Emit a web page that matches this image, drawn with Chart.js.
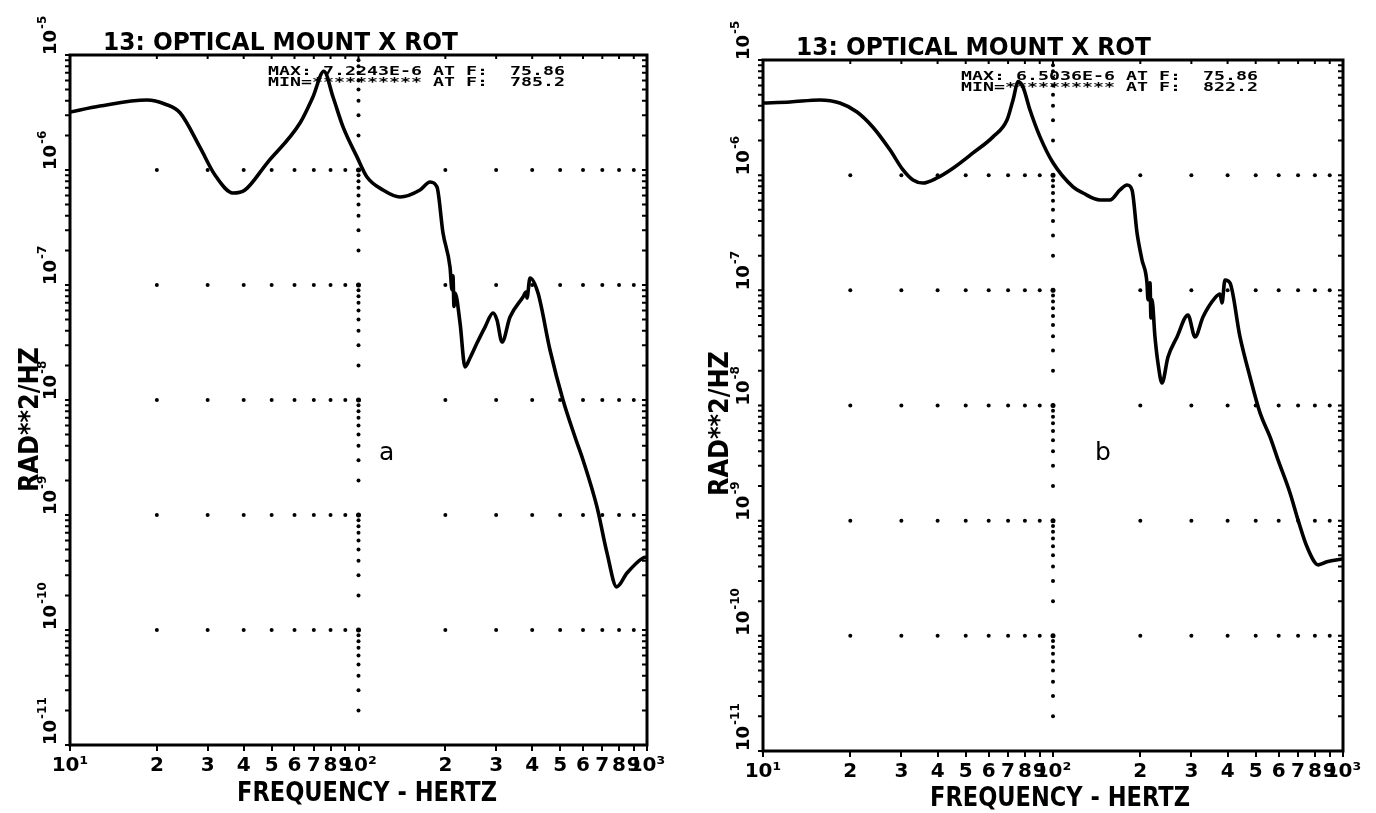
<!DOCTYPE html>
<html><head><meta charset="utf-8">
<script src="https://cdn.jsdelivr.net/npm/chart.js@4.4.1/dist/chart.umd.min.js"></script>
<style>
html,body{margin:0;padding:0;background:#fff;width:1376px;height:813px;overflow:hidden}
.panel{position:absolute;top:0;width:688px;height:813px}
#pa{left:0}
#pb{left:688px}
</style></head><body>
<div class="panel" id="pa"><canvas id="ca" width="688" height="813"></canvas></div>
<div class="panel" id="pb"><canvas id="cb" width="688" height="813"></canvas></div>
<script>
// ---------- text ----------
const titleText = '13: OPTICAL MOUNT X ROT';
const xAxisTitle = 'FREQUENCY - HERTZ';
const yAxisTitle = 'RAD**2/HZ';
const panelLetters = ['a', 'b'];
const maxLines = ['MAX: 7.2243E-6 AT F:  75.86', 'MAX: 6.5036E-6 AT F:  75.86'];
const minLines = ['MIN=********** AT F:  785.2', 'MIN=********** AT F:  822.2'];

// ---------- ticks ----------
const xTickValues = [10,20,30,40,50,60,70,80,90,100,200,300,400,500,600,700,800,900,1000];
const xTickLabels = ['10\u00b9','2','3','4','5','6','7','8','9','10\u00b2','2','3','4','5','6','7','8','9','10\u00b3'];
const yTickValues = [
  1e-11,2e-11,3e-11,4e-11,5e-11,6e-11,7e-11,8e-11,9e-11,
  1e-10,2e-10,3e-10,4e-10,5e-10,6e-10,7e-10,8e-10,9e-10,
  1e-9,2e-9,3e-9,4e-9,5e-9,6e-9,7e-9,8e-9,9e-9,
  1e-8,2e-8,3e-8,4e-8,5e-8,6e-8,7e-8,8e-8,9e-8,
  1e-7,2e-7,3e-7,4e-7,5e-7,6e-7,7e-7,8e-7,9e-7,
  1e-6,2e-6,3e-6,4e-6,5e-6,6e-6,7e-6,8e-6,9e-6,
  1e-5];
const yDecadeValues = [1e-11,1e-10,1e-9,1e-8,1e-7,1e-6,1e-5];
const yDecadeExponents = ['-11','-10','-9','-8','-7','-6','-5'];

// ---------- series (a) ----------
const freqA = [10,12.7,18.5,21.3,24.1,28.2,31.8,36.7,40.4,48.2,62.7,69.5,75.86,81.6,88.4,98.8,107,121.6,139.3,163.4,177,187.1,196.3,207.6,210.9,212.5,214.3,216.1,224.9,234,243.5,257.5,274.5,292.6,302,314.4,335.1,371.7,380.7,383.7,393,419,461.1,511.5,562.9,600.1,671.1,726.6,785.2,852.4,968.5,1000];
const psdA = [3.19e-6,3.6e-6,4.06e-6,3.75e-6,3.13e-6,1.58e-6,9.05e-7,6.31e-7,6.7e-7,1.15e-6,2.56e-6,4.31e-6,7.2243e-6,4.31e-6,2.37e-6,1.3e-6,8.69e-7,6.7e-7,5.82e-7,6.7e-7,7.87e-7,7.12e-7,2.83e-7,1.43e-7,9.05e-8,1.2e-7,6.5e-8,8.5e-8,4.68e-8,1.94e-8,2.32e-8,3.13e-8,4.31e-8,5.71e-8,4.96e-8,3.19e-8,5.27e-8,7.87e-8,8.69e-8,7.7e-8,1.15e-7,8.51e-8,2.72e-8,1.0e-8,4.77e-9,3.01e-9,1.17e-9,4.68e-10,2.37e-10,3.13e-10,4.23e-10,4.3e-10];

// ---------- series (b) ----------
const freqB = [10,12.4,15.7,18.4,21.1,23.9,27.4,30.4,32.9,35.6,39.8,45.2,53,62.1,69.4,72.8,75.86,78.8,83.3,90.2,100,117.2,126.9,145.2,157.2,170.2,180,187.3,194.9,202.7,210.9,212.6,216,217.7,219.4,224.7,230.1,237.6,249.2,267.7,292.1,308.8,329,361.9,376.6,382.6,391.8,407.6,441.4,477.9,517.5,560.2,597,656.6,699.5,751.5,822.2,880.9,1000];
const psdB = [4.23e-6,4.32e-6,4.5e-6,4.23e-6,3.54e-6,2.62e-6,1.66e-6,1.11e-6,9.08e-7,8.55e-7,9.46e-7,1.15e-6,1.56e-6,2.15e-6,3.01e-6,4.5e-6,6.5036e-6,5.83e-6,3.68e-6,2.15e-6,1.28e-6,7.91e-7,7.0e-7,6.09e-7,6.09e-7,7.44e-7,8.22e-7,7.44e-7,3.15e-7,1.84e-7,1.16e-7,8.3e-8,1.16e-7,5.75e-8,8.3e-8,3.94e-8,2.34e-8,1.57e-8,2.64e-8,3.94e-8,6.11e-8,3.94e-8,5.87e-8,8.59e-8,9.3e-8,7.78e-8,1.23e-7,1.16e-7,3.94e-8,1.77e-8,8.63e-9,5.34e-9,3.37e-9,1.74e-9,1.02e-9,5.93e-10,4.13e-10,4.39e-10,4.66e-10];

const FONT = 'DejaVu Sans';

function fitText(ctx, text, x, y, width, font, rot) {
  ctx.save();
  ctx.font = font;
  ctx.textBaseline = 'alphabetic';
  ctx.textAlign = 'left';
  const w = ctx.measureText(text).width;
  ctx.translate(x, y);
  if (rot) ctx.rotate(rot);
  ctx.scale(width / w, 1);
  ctx.fillText(text, 0, 0);
  ctx.restore();
}

function decorPlugin(p) {
  return {
    id: 'decor' + p.idx,
    beforeDatasetsDraw(chart) {
      const ctx = chart.ctx, xs = chart.scales.x, ys = chart.scales.y, a = chart.chartArea;
      ctx.save();
      ctx.fillStyle = '#000';
      // grid dots on decade rows
      yDecadeValues.forEach(d => {
        if (d === 1e-11 || d === 1e-5) return;
        const py = ys.getPixelForValue(d);
        xTickValues.forEach(v => {
          if (v === 10 || v === 1000) return;
          const px = xs.getPixelForValue(v);
          ctx.beginPath(); ctx.arc(px, py, v === 100 ? 2.5 : 2.0, 0, Math.PI * 2); ctx.fill();
        });
      });
      // column of dots at 10^2
      const p100 = xs.getPixelForValue(100);
      yTickValues.forEach(v => {
        if (v === 1e-11 || v === 1e-5) return;
        const py = ys.getPixelForValue(v);
        ctx.beginPath(); ctx.arc(p100, py, 2.0, 0, Math.PI * 2); ctx.fill();
      });
      // frame
      ctx.strokeStyle = '#000';
      ctx.lineWidth = 3;
      ctx.strokeRect(a.left, a.top, a.right - a.left, a.bottom - a.top);
      ctx.lineWidth = 2;
      ctx.beginPath();
      yTickValues.forEach(v => {
        const py = ys.getPixelForValue(v);
        ctx.moveTo(a.left - 5, py); ctx.lineTo(a.left, py);
        ctx.moveTo(a.right, py); ctx.lineTo(a.right - 5, py);
      });
      xTickValues.forEach(v => {
        const px = xs.getPixelForValue(v);
        ctx.moveTo(px, a.top); ctx.lineTo(px, a.top + 4);
      });
      ctx.stroke();
      ctx.restore();
    },
    afterDraw(chart) {
      const ctx = chart.ctx, ys = chart.scales.y, a = chart.chartArea;
      ctx.save();
      ctx.fillStyle = '#000';
      // title
      fitText(ctx, titleText, a.left + 33, a.top - 5, 355, 'bold 24px ' + FONT);
      // max / min lines
      fitText(ctx, maxLines[p.idx], a.left + 198, a.top + 20, 297, 'bold 13px DejaVu Sans Mono');
      fitText(ctx, minLines[p.idx], a.left + 198, a.top + 31, 297, 'bold 13px DejaVu Sans Mono');
      // panel letter
      ctx.font = '25px ' + FONT;
      ctx.textAlign = 'left'; ctx.textBaseline = 'alphabetic';
      ctx.fillText(panelLetters[p.idx], p.letterX, p.letterY);
      // axis titles
      fitText(ctx, xAxisTitle, p.xtX, p.xtY, 260, 'bold 26px ' + FONT);
      fitText(ctx, yAxisTitle, p.ytX, p.ytY, 145, 'bold 26px ' + FONT, -Math.PI / 2);
      // y tick labels (rotated)
      yDecadeValues.forEach((d, i) => {
        const py = ys.getPixelForValue(d);
        ctx.save();
        ctx.translate(a.left - 14, py);
        ctx.rotate(-Math.PI / 2);
        ctx.font = 'bold 18px ' + FONT;
        ctx.textAlign = 'left'; ctx.textBaseline = 'alphabetic';
        ctx.fillText('10', 0, 0);
        const w = ctx.measureText('10').width;
        ctx.font = 'bold 12px ' + FONT;
        ctx.fillText(yDecadeExponents[i], w + 1, -10);
        ctx.restore();
      });
      ctx.restore();
    }
  };
}

function makeChart(id, freq, psd, p) {
  return new Chart(document.getElementById(id), {
    type: 'line',
    data: { datasets: [{
      data: freq.map((f, i) => ({ x: f, y: psd[i] })),
      borderColor: '#000', borderWidth: 3.6, pointRadius: 0,
      cubicInterpolationMode: 'monotone', fill: false
    }] },
    options: {
      responsive: false, animation: false,
      layout: { padding: { left: 0, right: p.padRight, top: p.padTop, bottom: 0 } },
      plugins: { legend: { display: false }, tooltip: { enabled: false } },
      scales: {
        x: {
          type: 'logarithmic', min: 10, max: 1000,
          afterBuildTicks: s => { s.ticks = xTickValues.map(v => ({ value: v })); },
          afterFit: s => { s.height = p.xH; },
          ticks: { autoSkip: false, maxRotation: 0, minRotation: 0, padding: 3, color: '#000',
                   font: { family: FONT, weight: 'bold', size: 20 },
                   callback: (v, i) => xTickLabels[i] },
          grid: { drawOnChartArea: false, drawTicks: true, tickLength: 6, color: '#000', lineWidth: 2 },
          border: { display: false }
        },
        y: {
          type: 'logarithmic', min: 1e-11, max: 1e-5,
          afterBuildTicks: s => { s.ticks = yTickValues.map(v => ({ value: v })); },
          afterFit: s => { s.width = p.yW; },
          ticks: { display: false },
          grid: { display: false },
          border: { display: false }
        }
      }
    },
    plugins: [decorPlugin(p)]
  });
}

makeChart('ca', freqA, psdA, { idx: 0, padRight: 41, padTop: 55, xH: 68, yW: 70,
  letterX: 379, letterY: 460, xtX: 237, xtY: 801, ytX: 38, ytY: 492 });
makeChart('cb', freqB, psdB, { idx: 1, padRight: 33, padTop: 60, xH: 62, yW: 75,
  letterX: 407, letterY: 460, xtX: 242, xtY: 806, ytX: 40, ytY: 496 });
</script>
</body></html>
